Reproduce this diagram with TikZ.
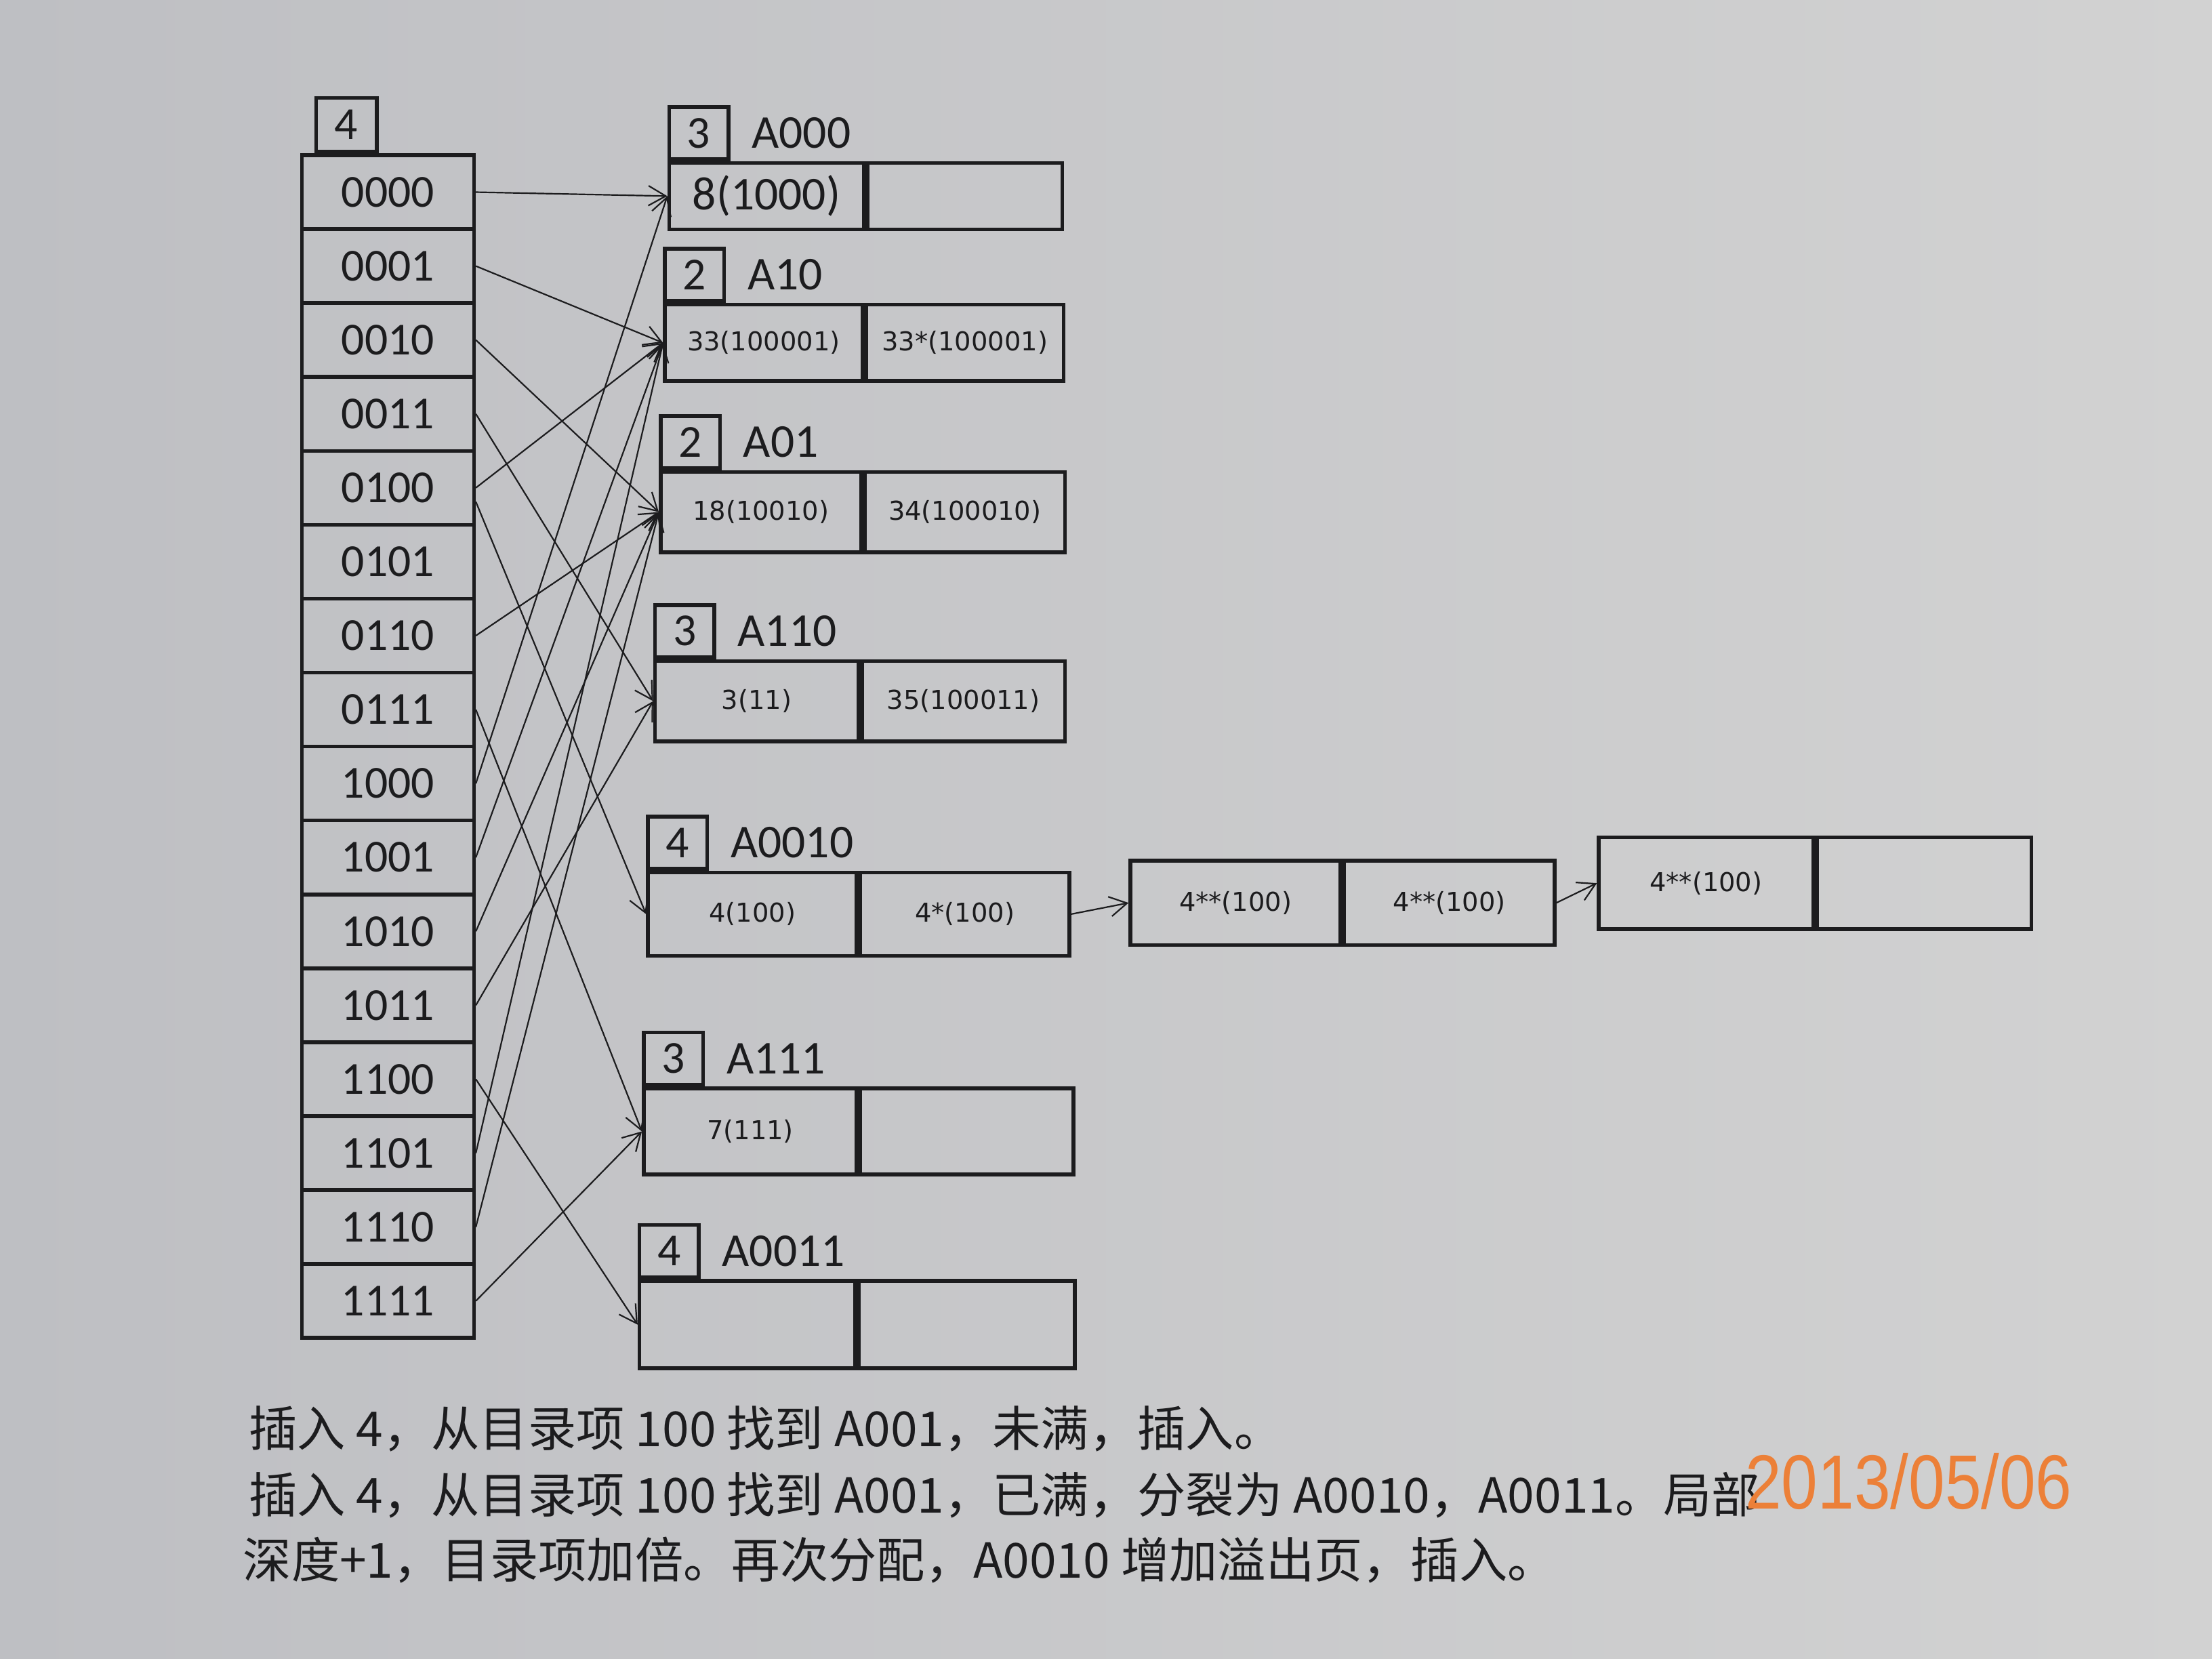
\documentclass[tikz,border=0pt]{standalone}
\usepackage{fontspec}
\setmainfont{Carlito}
\newfontfamily\cjk{Noto Sans CJK SC}
\newfontfamily\smallfont{DejaVu Sans}
\newfontfamily\datefont[FakeStretch=0.85]{Liberation Sans}
\usetikzlibrary{arrows.meta}
\definecolor{paperL}{RGB}{190,191,195}
\definecolor{paperR}{RGB}{210,210,210}
\definecolor{ink}{RGB}{28,28,30}
\definecolor{stamp}{RGB}{236,128,56}
\newcommand{\bigcell}{\rmfamily\fontsize{19}{21}\selectfont}
\tikzset{
  slot/.style={draw=ink,line width=1.5pt,inner sep=0pt,text=ink,
    font=\fontsize{18.5}{20}\selectfont},
  cell/.style={draw=ink,line width=1.5pt,inner sep=0pt,text=ink,
    font=\smallfont\fontsize{10.5}{12}\selectfont},
  ptr/.style={ink,line width=0.6pt,-{Straight Barb[length=7pt,width=8pt]}},
  caption/.style={anchor=west,inner sep=0pt,text=ink,
    font=\cjk\fontsize{19.5}{21}\selectfont},
}
\begin{document}
\begin{tikzpicture}[x=0.02cm,y=-0.02cm]
  \useasboundingbox (0,0) rectangle (1568,1176);
  \shade[left color=paperL,right color=paperR] (0,0) rectangle (1568,1176);
  % directory
  \foreach \bits [count=\i from 0] in {0000,0001,0010,0011,0100,0101,0110,0111,
      1000,1001,1010,1011,1100,1101,1110,1111}
    \node[slot,minimum width=2.44cm,minimum height=1.048cm]
      (d\bits) at (275,{136.2+52.4*\i}) {\bits};
  \node[slot,minimum width=0.86cm,minimum height=0.76cm,anchor=south west]
    (gdepth) at ([xshift=0.2cm]d0000.north west) {4};
  % buckets
  \foreach \nm/\x/\y/\w/\h/\dep/\la/\lb in {
      A000/473/139/138/47/3/{\bigcell 8(1000)}/{},
      A10/470/243/140/54/2/{33(100001)}/{33*(100001)},
      A01/467/363/142/57/2/{18(10010)}/{34(100010)},
      A110/463/497/144/57/3/{3(11)}/{35(100011)},
      A0010/458/648/148/59/4/{4(100)}/{4*(100)},
      A111/455/802/151/61/3/{7(111)}/{},
      A0011/452/939/153/62/4/{}/{}}
  {
    \node[cell,minimum width=\w*0.02cm,minimum height=\h*0.02cm,anchor=west]
      (\nm-l) at (\x,\y) {\la};
    \node[cell,minimum width=\w*0.02cm,minimum height=\h*0.02cm,anchor=west]
      (\nm-r) at (\nm-l.east) {\lb};
    \node[slot,minimum width=0.84cm,minimum height=0.74cm,anchor=south west]
      (\nm-d) at (\nm-l.north west) {\dep};
    \node[anchor=west,inner sep=0pt,text=ink,font=\fontsize{19}{21}\selectfont]
      (\nm-n) at ([xshift=0.3cm]\nm-d.east) {\nm};
  }
  % overflow pages of A0010
  \node[cell,minimum width=2.98cm,minimum height=1.2cm,anchor=west]
    (ov1-l) at (800,640) {4**(100)};
  \node[cell,minimum width=2.98cm,minimum height=1.2cm,anchor=west]
    (ov1-r) at (ov1-l.east) {4**(100)};
  \node[cell,minimum width=3.04cm,minimum height=1.3cm,anchor=west]
    (ov2-l) at (1132,626) {4**(100)};
  \node[cell,minimum width=3.04cm,minimum height=1.3cm,anchor=west]
    (ov2-r) at (ov2-l.east) {};
  \draw[ptr] (A0010-r.east) -- (ov1-l.west);
  \draw[ptr] (ov1-r.east) -- (ov2-l.west);
  % directory pointers
  \foreach \src/\dst in {d0000.east/A000,d0001.east/A10,d0010.east/A01,
      d0011.east/A110,d0100.east/A10,d0100.-9/A0010,d0110.east/A01,
      d0111.east/A111,d1000.east/A000,d1001.east/A10,d1010.east/A01,
      d1011.east/A110,d1100.east/A0011,d1101.east/A10,d1110.east/A01,
      d1111.east/A111}
    \draw[ptr] (\src) -- (\dst-l.west);
  % caption
  \node[caption] (cap1) at (176,1013) {插入 4，从目录项 100 找到 A001，未满，插入。};
  \node[caption] (cap2) at (176,1060) {插入 4，从目录项 100 找到 A001，已满，分裂为 A0010，A0011。局部};
  \node[caption] (cap3) at (172,1106) {深度+1，目录项加倍。再次分配，A0010 增加溢出页，插入。};
  \node[inner sep=0pt,text=stamp,font=\datefont\fontsize{31}{33}\selectfont]
    (stampdate) at (1353,1050) {2013/05/06};
\end{tikzpicture}
\end{document}
